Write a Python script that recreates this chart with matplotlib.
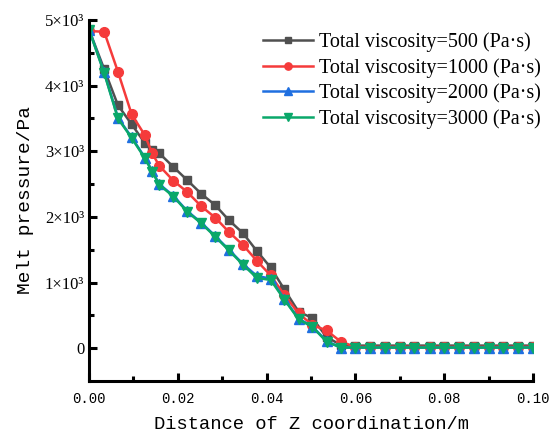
import numpy as np
import matplotlib.pyplot as plt
from matplotlib.ticker import MultipleLocator, FixedLocator

# x positions (m) of the mesh nodes
x_head = [0.0, 0.0034, 0.0065, 0.0096, 0.0126, 0.0142, 0.0158, 0.019, 0.0221,
          0.0253, 0.0284, 0.0315, 0.0347, 0.0378, 0.0409, 0.044, 0.0472,
          0.0503, 0.0535, 0.0567]
x_tail = [0.06, 0.0633, 0.0667, 0.07, 0.0733, 0.0767, 0.08, 0.0833, 0.0867,
          0.09, 0.0933, 0.0967, 0.1]
z = x_head + x_tail

# melt pressure (Pa)
p500 = [4850, 4250, 3700, 3410, 3120, 3020, 2970, 2760, 2560, 2350, 2180,
        1950, 1750, 1480, 1230, 895, 555, 460, 170, 50] + [40] * 13
p1000 = [4830, 4820, 4210, 3560, 3240, 2970, 2780, 2550, 2380, 2160, 1990,
         1770, 1570, 1330, 1110, 810, 530, 355, 270, 100] + [20] * 13
p2000 = [4850, 4200, 3510, 3210, 2900, 2700, 2500, 2320, 2090, 1910, 1710,
         1500, 1280, 1100, 1060, 750, 450, 330, 110, 10] + [10] * 13
p3000 = [4850, 4190, 3500, 3200, 2890, 2690, 2490, 2310, 2080, 1900, 1700,
         1490, 1270, 1070, 1040, 740, 440, 325, 100, 10] + [10] * 13

labels = ['Total viscosity=500 (Pa·s)', 'Total viscosity=1000 (Pa·s)',
          'Total viscosity=2000 (Pa·s)', 'Total viscosity=3000 (Pa·s)']

fig = plt.figure(figsize=(5.5, 4.33), dpi=100)
ax = fig.add_axes([0.162, 0.12, 0.807, 0.834])

ax.plot(z, p500, color='#505050', marker='s', ms=6, lw=1.8, label=labels[0])
ax.plot(z, p1000, color='#f53b3b', marker='o', ms=7, lw=1.8, label=labels[1])
ax.plot(z, p2000, color='#1f6fe0', marker='^', ms=7, lw=1.8, label=labels[2])
ax.plot(z, p3000, color='#0aa86a', marker='v', ms=7, lw=1.8, label=labels[3])

ax.set_xlim(0, 0.1)
ax.set_ylim(-500, 5000)

ax.xaxis.set_major_locator(MultipleLocator(0.02))
ax.xaxis.set_minor_locator(MultipleLocator(0.01))
ax.yaxis.set_major_locator(FixedLocator([0, 1000, 2000, 3000, 4000, 5000]))
ax.yaxis.set_minor_locator(FixedLocator([500, 1500, 2500, 3500, 4500]))

ax.set_xticklabels(['%.2f' % v for v in ax.get_xticks()],
                   family='Liberation Mono', fontsize=10)
ax.set_yticklabels(['0', '1×10³', '2×10³', '3×10³', '4×10³', '5×10³'],
                   family='Liberation Serif', fontsize=12)

for s in ['top', 'right']:
    ax.spines[s].set_visible(False)
for s in ['left', 'bottom']:
    ax.spines[s].set_linewidth(2.2)

ax.tick_params(which='major', direction='in', length=6, width=2.2)
ax.tick_params(which='minor', direction='in', length=3.5, width=2.2)
ax.tick_params(axis='x', pad=8)

ax.set_xlabel('Distance of Z coordination/m', family='Liberation Mono',
              fontsize=13.5, labelpad=7)
ax.set_ylabel('Melt pressure/Pa', family='Liberation Mono', fontsize=14,
              labelpad=8)

ax.legend(loc='upper right', bbox_to_anchor=(549 / 550, 1 - 24 / 433),
          bbox_transform=fig.transFigure, borderaxespad=0, frameon=False,
          prop={'family': 'Liberation Serif', 'size': 14.5},
          handlelength=2.5, handletextpad=0.3, labelspacing=0.3,
          markerscale=0.75)

fig.savefig('out.png', dpi=100)
